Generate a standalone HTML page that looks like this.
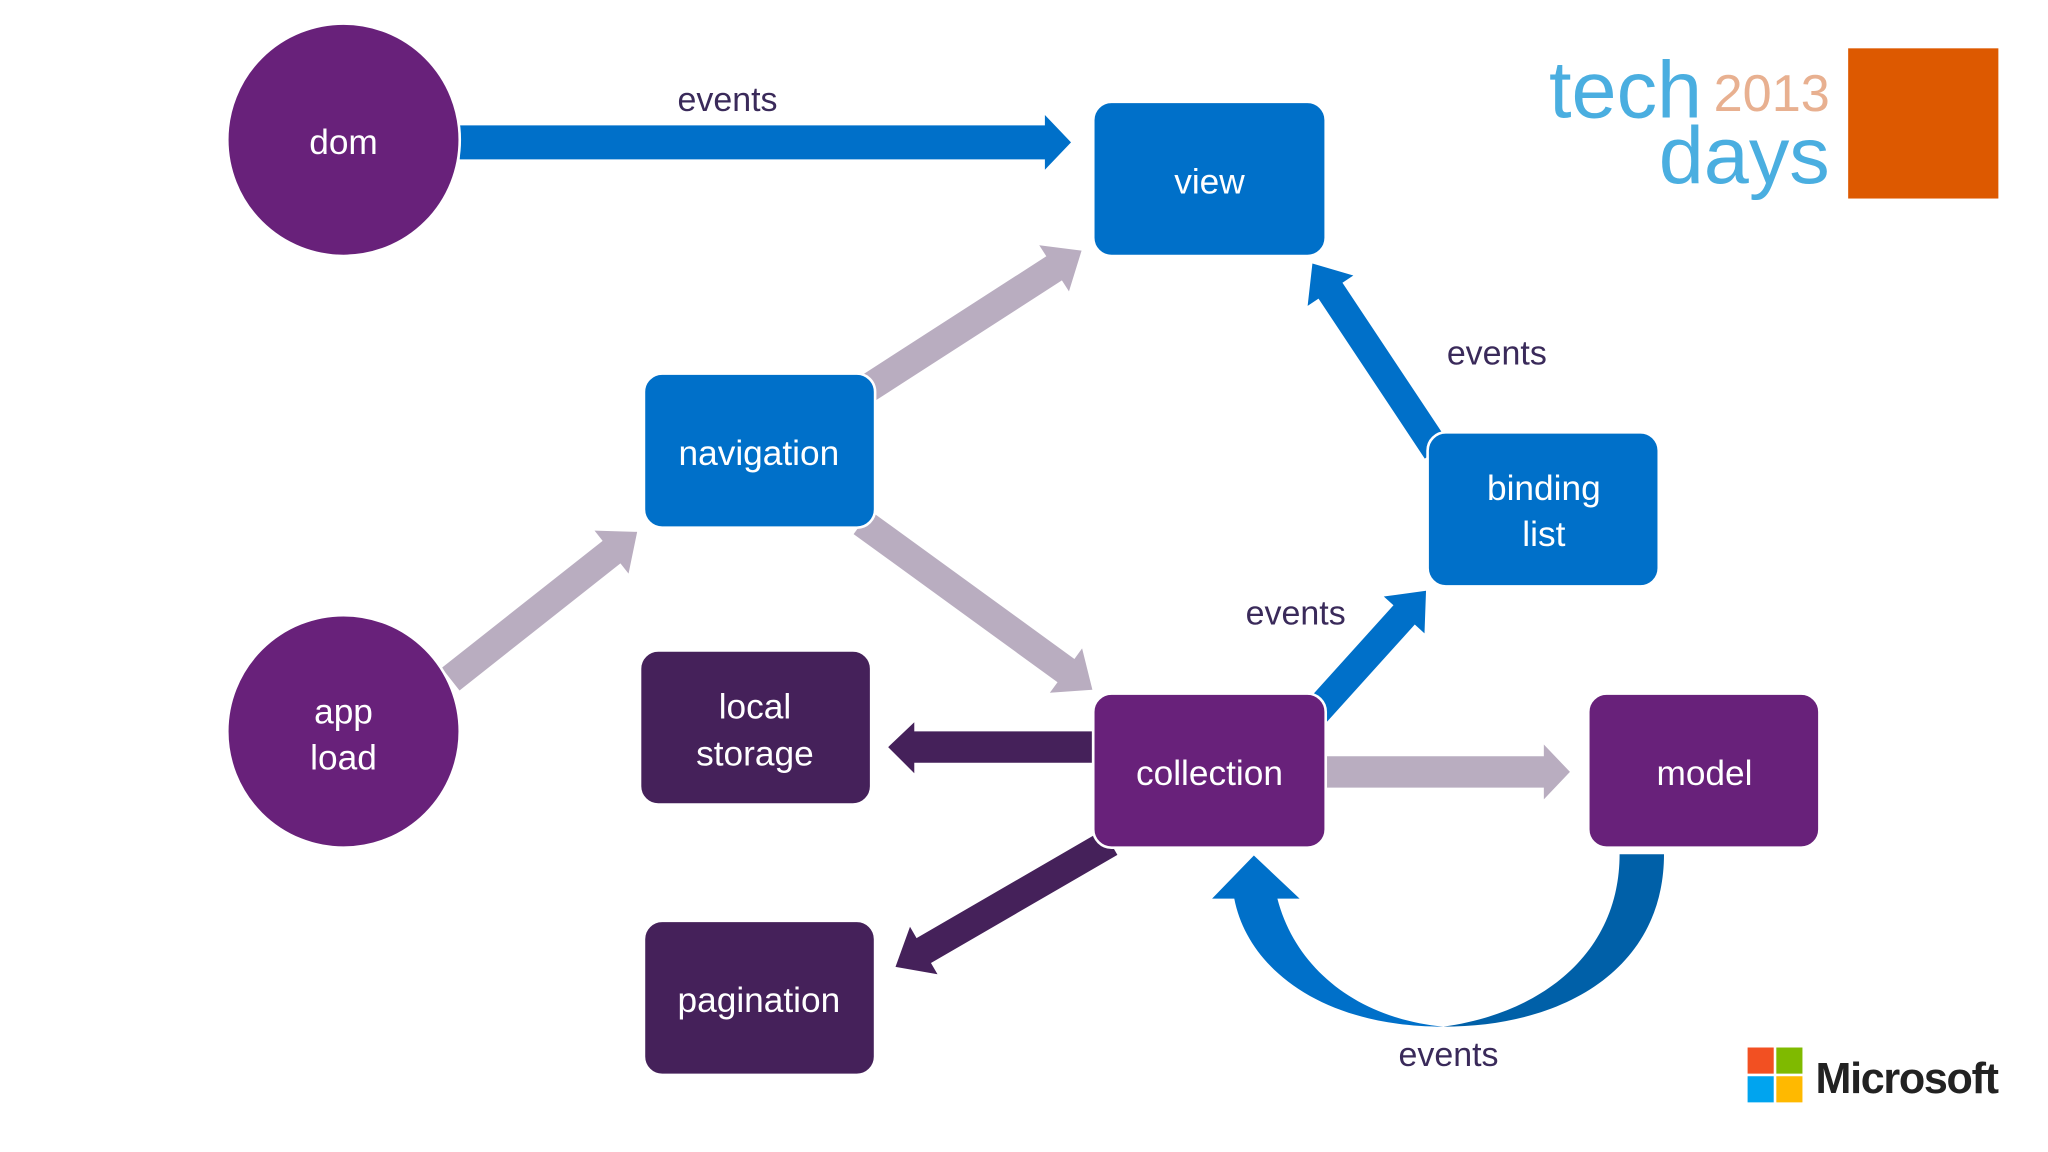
<!DOCTYPE html>
<html><head><meta charset="utf-8"><style>
html,body{margin:0;padding:0;background:#fff;width:2048px;height:1152px;overflow:hidden}
svg{display:block}
text{font-family:"Liberation Sans",sans-serif}
</style></head><body>
<svg width="2048" height="1152" viewBox="0 0 1568 882" xmlns="http://www.w3.org/2000/svg">
<rect width="1568" height="882" fill="#fff"/>

<!-- straight arrows -->
<path d="M352,96 L800,96 L800,88 L820,109 L800,130 L800,122 L352,122 Z" fill="#0070c9"/>
<g fill="#b9adc0">
<path transform="translate(665,297) rotate(-32.8)" d="M0,-11 L169,-11 L169,-21 L194,0 L169,21 L169,11 L0,11 Z"/>
<path transform="translate(660,400) rotate(36)" d="M0,-11 L193,-11 L193,-21 L218,0 L193,21 L193,11 L0,11 Z"/>
<path transform="translate(345,520) rotate(-38.3)" d="M0,-11 L157,-11 L157,-21 L182,0 L157,21 L157,11 L0,11 Z"/>
<path d="M1016,579 L1182,579 L1182,570 L1202,591 L1182,612 L1182,603 L1016,603 Z"/>
</g>
<g fill="#0070c9">
<path transform="translate(1100,345) rotate(-123.6)" d="M0,-11 L147,-11 L147,-21 L172,0 L147,21 L147,11 L0,11 Z"/>
<path transform="translate(1008,545) rotate(-47.9)" d="M0,-11 L100,-11 L100,-21 L125,0 L100,21 L100,11 L0,11 Z"/>
</g>
<g fill="#45215a">
<path d="M836,560 L700,560 L700,553 L680,572 L700,592 L700,584 L836,584 Z"/>
<path transform="translate(850,645) rotate(149.9)" d="M0,-11 L165,-11 L165,-21 L190,0 L165,21 L165,11 L0,11 Z"/>
</g>

<!-- curved arrow -->
<path d="M1105,786 C1200,786 1274,740 1274,654 L1240,654 C1240,730 1180,776 1105,786 Z" fill="#0060a8"/>
<path d="M1105,786 C1010,786 955,740 945,688 L928,688 L960,655 L995,688 L978,688 C992,742 1040,780 1105,786 Z" fill="#0070c9"/>

<!-- nodes -->
<g stroke="#fff" stroke-width="2">
<circle cx="263" cy="107" r="89" fill="#68217a"/>
<circle cx="263" cy="560" r="89" fill="#68217a"/>
<rect x="837" y="78" width="178" height="118" rx="14" fill="#0070c9"/>
<rect x="493" y="286" width="177" height="118" rx="14" fill="#0070c9"/>
<rect x="1093" y="331" width="177" height="118" rx="14" fill="#0070c9"/>
<rect x="490" y="498" width="177" height="118" rx="14" fill="#45215a"/>
<rect x="837" y="531" width="178" height="118" rx="14" fill="#68217a"/>
<rect x="1216" y="531" width="177" height="118" rx="14" fill="#68217a"/>
<rect x="493" y="705" width="177" height="118" rx="14" fill="#45215a"/>
</g>

<g fill="#fff" font-size="27" text-anchor="middle">
<text x="263" y="118">dom</text>
<text x="263" y="554">app</text>
<text x="263" y="589">load</text>
<text x="926" y="148">view</text>
<text x="581" y="356">navigation</text>
<text x="1182" y="383">binding</text>
<text x="1182" y="418">list</text>
<text x="578" y="550">local</text>
<text x="578" y="586">storage</text>
<text x="926" y="601">collection</text>
<text x="1305" y="601">model</text>
<text x="581" y="775">pagination</text>
</g>

<g fill="#3a2a5a" font-size="26" text-anchor="middle">
<text x="557" y="85">events</text>
<text x="1146" y="279">events</text>
<text x="992" y="478">events</text>
<text x="1109" y="816">events</text>
</g>

<!-- techdays logo -->
<text x="1186" y="90" font-size="62" fill="#4aaee0" font-weight="normal">tech</text>
<text x="1312" y="85" font-size="40" fill="#e8b090">2013</text>
<text x="1270" y="140" font-size="62" fill="#4aaee0">days</text>
<rect x="1415" y="37" width="115" height="115" fill="#dd5900"/>

<!-- Microsoft logo -->
<rect x="1338" y="802" width="20" height="20" fill="#f25022"/>
<rect x="1360" y="802" width="20" height="20" fill="#7fba00"/>
<rect x="1338" y="824" width="20" height="20" fill="#00a4ef"/>
<rect x="1360" y="824" width="20" height="20" fill="#ffb900"/>
<text x="1390" y="837" font-size="33" fill="#222" font-weight="bold" letter-spacing="-1">Microsoft</text>
</svg>
</body></html>
